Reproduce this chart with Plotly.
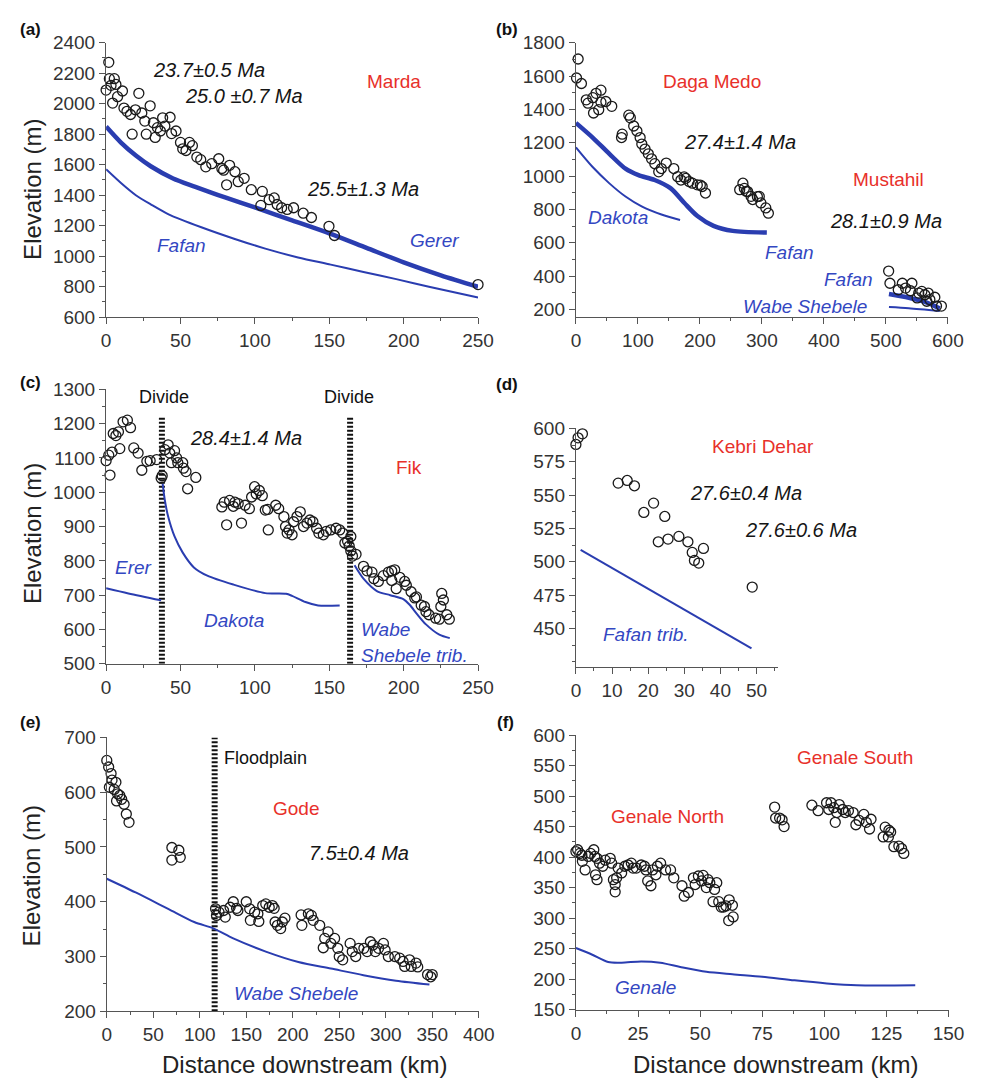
import plotly.graph_objects as go

W, H = 989, 1089

# ---------------- (a) Marda ----------------
a_x = [0, 1.8, 2.2, 3.3, 4.4, 5.5, 6.6, 7.7, 11, 12, 14, 16.4, 17.5, 19.7, 22, 24, 26, 27, 29.6,
       31.8, 33, 34.5, 36.5, 38, 39.5, 43, 44, 47, 50, 51.5, 53.7, 56, 58, 61, 63.6, 67, 71, 75.7,
       77.8, 79, 81, 83, 86.6, 88.8, 92.8, 97.6, 104, 105, 109.6, 113, 115, 118, 121.7, 126,
       132.5, 138, 149.8, 153.5, 250]
a_y = [2089, 2271, 2164, 2120, 2004, 2164, 2126, 2046, 2083, 1971, 1950, 1929, 1800, 1960, 2068,
       1939, 1886, 1800, 1986, 1875, 1779, 1843, 1821, 1907, 1853, 1911, 1804, 1821, 1746, 1704,
       1693, 1746, 1725, 1650, 1633, 1586, 1607, 1639, 1575, 1564, 1468, 1596, 1554, 1489, 1511,
       1436, 1333, 1425, 1371, 1382, 1339, 1318, 1307, 1318, 1282, 1254, 1196, 1136, 814]
a_gerer_x = [0, 10, 20, 30, 45, 60, 80, 100, 125, 150, 175, 200, 225, 250]
a_gerer_y = [1850, 1745, 1660, 1590, 1510, 1455, 1385, 1320, 1235, 1150, 1055, 960, 875, 800]
a_fafan_x = [0, 10, 20, 30, 42, 64, 86, 107, 129, 151, 173, 195, 217, 250]
a_fafan_y = [1570, 1480, 1400, 1340, 1275, 1190, 1115, 1050, 992, 945, 897, 850, 800, 730]

# ---------------- (b) Daga Medo / Mustahil ----------------
b_x = [1, 3.6, 8.9, 16.7, 19.4, 27.3, 28.4, 32.5, 36.8, 40.4, 40.4, 48.3, 57.8, 73.6, 74.7, 85.3,
       87.8, 93.2, 98.4, 103.6, 106.3, 111.5, 116.8, 122, 127.3, 133.6, 137.8, 145.7, 157.9, 164.2,
       169.4, 174.5, 177.3, 182.6, 187.9, 195.8, 200.7, 203.7, 209, 264.2, 269.4, 271.7, 274.7,
       277, 282.6, 285.2, 292.7, 295.8, 298.4, 306.3, 310.5,
       504.5, 506.6, 520, 526.6, 531.8, 539.7, 542, 550.4, 553, 558, 563, 566, 568.3, 571, 579,
       581.7, 589.6]
b_y = [1588, 1702, 1555, 1457, 1437, 1470, 1378, 1496, 1398, 1515, 1443, 1447, 1418, 1231, 1251,
       1365, 1349, 1300, 1270, 1231, 1192, 1162, 1133, 1103, 1074, 1025, 1045, 1078, 1045, 996,
       976, 995, 986, 967, 957, 947, 946, 937, 898, 918, 957, 926, 908, 907, 878, 859, 877, 878,
       839, 809, 777,
       430, 357, 318, 357, 328, 312, 357, 269, 298, 308, 288, 249, 298, 259, 273, 220, 220]
b_fafan_x = [0, 27, 54, 80, 101, 127, 153, 175, 196, 222, 253, 308]
b_fafan_y = [1319, 1231, 1133, 1044, 1005, 976, 926, 838, 760, 701, 671, 661]
b_dakota_x = [0, 27, 54, 80, 106, 138, 168]
b_dakota_y = [1172, 1054, 956, 877, 818, 769, 736]
b_mfafan_x = [505, 537, 563, 587]
b_mfafan_y = [292, 270, 245, 205]
b_wabe_x = [505, 537, 587]
b_wabe_y = [214, 207, 190]

# ---------------- (c) Fik ----------------
c_x = [0, 1.8, 2.6, 4, 4.8, 6.6, 8.3, 9.2, 11.4, 14.3, 16.4, 18.6, 21.5, 24, 27.4, 29.6, 34, 37,
       37.7, 39.5, 41.7, 42.8, 43.9, 46, 47.4, 48.2, 51.5, 52, 53.7, 54.8, 60.3,
       77.8, 79.4, 81, 83, 85.5, 86.6, 88.8, 91, 93.4, 96.3, 97.8, 99.8, 100.9, 103, 105, 107,
       108.6, 109, 114, 116, 119.5, 120.6, 121.7, 123, 125, 126, 128.3, 130.5, 132.7, 135, 137,
       139, 141.5, 143, 146, 148, 151, 154.6, 157, 159, 160.5, 162.3, 163.4, 164.5, 164.5, 165.6,
       168,
       173, 175.4, 178.7, 180, 183, 186.4, 189.7, 192, 194, 192, 195, 197.4, 200.7, 201.8, 205,
       207.5, 208.6, 211.8, 214, 215, 217, 221.5, 224, 225, 225.6, 226.7, 229, 230.7]
c_y = [1092, 1108, 1050, 1117, 1171, 1165, 1176, 1127, 1205, 1210, 1188, 1129, 1114, 1064, 1090,
       1092, 1095, 1041, 1048, 1124, 1138, 1114, 1086, 1121, 1100, 1086, 1086, 1070, 1060, 1010,
       1043,
       957, 971, 905, 976, 959, 971, 967, 910, 962, 952, 986, 1016, 995, 1005, 990, 948, 950, 890,
       962, 952, 929, 900, 881, 890, 876, 914, 929, 943, 900, 910, 919, 914, 895, 881, 876, 886,
       890, 895, 890, 881, 852, 857, 843, 829, 871, 814, 819,
       784, 771, 767, 748, 740, 757, 767, 771, 774, 743, 719, 752, 740, 729, 710, 692, 695, 671,
       667, 652, 643, 633, 630, 667, 705, 686, 643, 630]
c_erer_x = [0, 15, 37]
c_erer_y = [720, 705, 685]
c_dakota_x = [38, 39.5, 41.7, 46, 51.5, 59, 68, 85.5, 107, 121, 125, 134, 142.5, 157]
c_dakota_y = [1025, 976, 929, 871, 824, 781, 757, 731, 706, 704, 698, 680, 670, 670]
c_wabe_x = [167, 173, 182, 191, 200, 204, 209, 215, 224, 231]
c_wabe_y = [787, 748, 712, 700, 688, 672, 645, 615, 585, 575]
c_divide_x = [37.5, 164]
c_divide_top = 1220

# ---------------- (d) Kebri Dehar ----------------
d_x = [0, 0.6, 1.8, 11.7, 14.2, 16.2, 18.8, 21.5, 22.8, 24.6, 25.5, 28.5, 31, 32.2, 32.8, 34,
       35.3, 48.8]
d_y = [588, 593, 596, 559, 561, 557, 537, 544, 515, 534, 517, 519, 515, 507, 501, 499, 510, 481]
d_line_x = [1.3, 48.6]
d_line_y = [509, 435]

# ---------------- (e) Gode ----------------
e_x = [0, 2, 2.8, 4.6, 5.6, 8, 9.8, 10.5, 11.6, 14, 16, 18.6, 21, 23.9, 70, 70, 77.5, 79,
       117, 118, 120.7, 125.6, 127.4, 132.6, 136, 139.6, 141, 150, 153.7, 154.4, 159, 162.5,
       163.5, 167.7, 171, 174.7, 178, 180, 181, 183.5, 187, 188.8, 191.6, 209, 209.8, 216.8, 220,
       222, 229, 232.8, 234.4, 238, 241, 245, 248.4, 250, 253.7, 261.7, 264, 267.7, 271, 276.5,
       280, 283.5, 286.3, 288.8, 292.3, 297.5, 299.3, 302.8, 309.8, 315, 318.6, 320.4, 325.6,
       327.4, 332.6, 334.4, 345, 348.4, 350]
e_y = [658, 646, 609, 634, 622, 605, 618, 584, 597, 594, 587, 578, 560, 545, 499, 476, 494, 481,
       387, 375, 381, 384, 372, 390, 400, 388, 384, 400, 387, 366, 381, 378, 364, 393, 396, 390,
       393, 388, 363, 357, 351, 363, 370, 376, 357, 378, 375, 366, 357, 316, 333, 345, 324, 333,
       315, 300, 294, 324, 309, 300, 315, 315, 309, 327, 321, 309, 315, 324, 312, 300, 300, 297,
       291, 282, 294, 282, 288, 281, 267, 263, 267]
e_line_x = [0, 31, 66, 94, 115, 136, 171, 206, 241, 276, 311, 347]
e_line_y = [442, 417, 387, 363, 351, 333, 309, 290, 278, 266, 256, 249]
e_flood_x = 116

# ---------------- (f) Genale ----------------
f_x = [0, 0.7, 1.6, 2.4, 2.6, 3.7, 5, 5.9, 7.2, 7.6, 8.5, 7.9, 8.5, 9.5, 10.8, 11.8, 13.8, 14.4,
       15.1, 15.8, 15.8, 16.4, 17, 18.4, 19.7, 21, 22.3, 23, 24.3, 26.3, 27.6, 28.2, 28.9, 30.2,
       30.9, 32.2, 32.8, 34.1, 36.1, 38.1, 39.4, 42.7, 43.6, 45.3, 47.3, 48, 49.3, 50.6, 51.2,
       53.2, 52.5, 53.9, 55.2, 55.8, 56.7, 57.5, 58.5, 59.4, 60.4, 61.7, 63, 61.5, 63.3,
       80, 80.4, 82, 83, 83.8, 95, 97.5, 100.9, 101.8, 102.7, 103.8, 104.4, 105, 106, 107.4,
       108.4, 109.7, 111.6, 112.7, 114, 115.9, 116.9, 118.2, 118.8, 123.7, 124.5, 126, 126.7,
       125.8, 128, 130, 131.1, 132]
f_y = [409, 412, 406, 403, 393, 379, 401, 406, 412, 401, 398, 371, 363, 390, 385, 395, 398, 390,
       363, 355, 343, 366, 382, 374, 385, 387, 390, 382, 382, 387, 385, 379, 361, 353, 379, 371,
       385, 390, 379, 379, 366, 353, 336, 342, 366, 355, 369, 361, 370, 363, 350, 358, 327, 347,
       358, 327, 318, 318, 320, 330, 321, 296, 302,
       482, 464, 464, 461, 450, 485, 476, 489, 478, 489, 481, 457, 473, 486, 478, 473, 476, 473,
       453, 460, 470, 457, 446, 462, 433, 449, 444, 441, 433, 417, 418, 414, 406]
f_line_x = [0, 6.6, 13, 18.4, 26.3, 34, 42, 52.5, 63, 75, 88, 101, 113, 136.6]
f_line_y = [251, 240, 228, 227, 229, 227, 220, 212, 208, 204, 198, 193, 190, 190]

BLUE = "#2a3db0"
BLUE_T = "#3347c2"
RED = "#e8302a"
FONT = "Liberation Sans, Arial, sans-serif"

fig = go.Figure()


def pts(x, y, k):
    fig.add_trace(go.Scatter(x=x, y=y, mode="markers", xaxis="x" + k, yaxis="y" + k,
                             cliponaxis=False, showlegend=False, hoverinfo="skip",
                             marker=dict(symbol="circle-open", size=10, color="#1a1a1a",
                                         line=dict(width=1.3))))


def line(x, y, k, w):
    fig.add_trace(go.Scatter(x=x, y=y, mode="lines", xaxis="x" + k, yaxis="y" + k,
                             cliponaxis=False, showlegend=False, hoverinfo="skip",
                             line=dict(color=BLUE, width=w, shape="spline", smoothing=0.8)))


def divider(xv, y0, y1, k):
    fig.add_trace(go.Scatter(x=[xv, xv], y=[y0, y1], mode="lines", xaxis="x" + k, yaxis="y" + k,
                             cliponaxis=False, showlegend=False, hoverinfo="skip",
                             line=dict(color="#111111", width=6, dash="2px,2px")))


# (a)
line(a_fafan_x, a_fafan_y, "", 2)
line(a_gerer_x, a_gerer_y, "", 4.5)
pts(a_x, a_y, "")
# (b)
line(b_dakota_x, b_dakota_y, "2", 2)
line(b_fafan_x, b_fafan_y, "2", 4.5)
line(b_wabe_x, b_wabe_y, "2", 2)
line(b_mfafan_x, b_mfafan_y, "2", 4.5)
pts(b_x, b_y, "2")
# (c)
for dx in c_divide_x:
    divider(dx, 500, c_divide_top, "3")
line(c_erer_x, c_erer_y, "3", 2)
line(c_dakota_x, c_dakota_y, "3", 2)
line(c_wabe_x, c_wabe_y, "3", 2)
pts(c_x, c_y, "3")
# (d)
line(d_line_x, d_line_y, "4", 2)
pts(d_x, d_y, "4")
# (e)
divider(e_flood_x, 200, 700, "5")
line(e_line_x, e_line_y, "5", 2)
pts(e_x, e_y, "5")
# (f)
line(f_line_x, f_line_y, "6", 2)
pts(f_x, f_y, "6")


def xdom(p0, p1):
    return [p0 / W, p1 / W]


def ydom(top, bot):
    return [1 - bot / H, 1 - top / H]


def axis(domain, rng, anchor, dtick, minor, tickvals=None):
    d = dict(domain=domain, range=rng, anchor=anchor, showline=True, linecolor="#555",
             linewidth=1.3, ticks="outside", ticklen=6, tickwidth=1.3, tickcolor="#555",
             showgrid=False, zeroline=False,
             tickfont=dict(family=FONT, size=19, color="#333"),
             minor=dict(dtick=minor, tick0=0, ticks="outside", ticklen=3, tickcolor="#555",
                        tickwidth=1, showgrid=False))
    if tickvals is not None:
        d.update(tickmode="array", tickvals=tickvals)
    else:
        d.update(tick0=0, dtick=dtick)
    return d


L = xdom(103.3, 483.3)
R = xdom(583.3, 963.3)
fig.update_layout(
    xaxis=axis(L, [0, 250], "y", 50, 25),
    yaxis=axis(ydom(33.3, 313.3), [600, 2400], "x", 200, 100),
    xaxis2=axis(R, [0, 600], "y2", 100, 50),
    yaxis2=axis(ydom(33.3, 313.3), [153, 1800], "x2", 200, 100),
    xaxis3=axis(L, [0, 250], "y3", 50, 25),
    yaxis3=axis(ydom(386.7, 666.7), [500, 1300], "x3", 100, 50),
    xaxis4=axis(xdom(583.3, 790), [0, 56], "y4", 10, 5),
    yaxis4=axis(ydom(426.7, 670), [421, 600], "x4", 25, 12.5,
                tickvals=[450, 475, 500, 525, 550, 575, 600]),
    xaxis5=axis(xdom(104, 484), [0, 400], "y5", 50, 25),
    yaxis5=axis(ydom(741.7, 1021), [200, 700], "x5", 100, 50),
    xaxis6=axis(xdom(583.3, 964), [0, 150], "y6", 25, 12.5),
    yaxis6=axis(ydom(739.3, 1019.3), [150, 600], "x6", 50, 25),
)

ann = []


def txt(t, px, py, size=20, color="#111", anchor="center", angle=0):
    ann.append(dict(text=t, x=px / W, y=1 - py / H, xref="paper", yref="paper",
                    xanchor=anchor, yanchor="middle", showarrow=False, textangle=angle,
                    align="left", font=dict(family=FONT, size=size, color=color)))


def age(t, px, py):
    txt("<i>" + t + "</i>", px, py, 20, "#151515")


def red(t, px, py):
    txt(t, px, py, 19, RED)


def blue(t, px, py, anchor="center"):
    txt("<i>" + t + "</i>", px, py, 19, BLUE_T, anchor)


for lab, px, py in [("(a)", 26, 20), ("(b)", 513, 20), ("(c)", 26, 380), ("(d)", 513, 382),
                    ("(e)", 26, 727), ("(f)", 511, 727)]:
    txt("<b>" + lab + "</b>", px, py, 17, "#111")

# (a)
age("23.7±0.5 Ma", 208, 61)
age("25.0 ±0.7 Ma", 244, 88)
age("25.5±1.3 Ma", 366, 183)
red("Marda", 397, 73)
blue("Fafan", 180, 240)
blue("Gerer", 439, 235)
# (b)
red("Daga Medo", 722, 73)
age("27.4±1.4 Ma", 751, 135)
red("Mustahil", 903, 173)
age("28.1±0.9 Ma", 900, 215)
blue("Dakota", 626, 212)
blue("Fafan", 802, 247)
blue("Fafan", 862, 275)
blue("Wabe Shebele", 817, 302)
# (c)
txt("Divide", 162, 395, 18, "#111")
txt("Divide", 351, 395, 18, "#111")
age("28.4±1.4 Ma", 246, 436)
red("Fik", 413, 467)
blue("Erer", 131, 568)
blue("Dakota", 234, 623)
blue("Wabe", 362, 632, "left")
blue("Shebele trib.", 362, 658, "left")
# (d)
red("Kebri Dehar", 774, 445)
age("27.6±0.4 Ma", 757, 493)
age("27.6±0.6 Ma", 813, 530)
blue("Fafan trib.", 655, 637)
# (e)
txt("Floodplain", 222, 763, 18, "#111", "left")
red("Gode", 297, 814)
age("7.5±0.4 Ma", 362, 860)
blue("Wabe Shebele", 297, 1003)
# (f)
red("Genale South", 868, 762)
red("Genale North", 677, 822)
blue("Genale", 654, 997)

for py in [183, 534, 883]:
    txt("Elevation (m)", 28, py, 24, "#222", angle=-90)
txt("Distance downstream (km)", 306, 1075, 24, "#222")
txt("Distance downstream (km)", 787, 1075, 24, "#222")

fig.update_layout(annotations=ann, width=W, height=H, margin=dict(l=0, r=0, t=0, b=0),
                  paper_bgcolor="white", plot_bgcolor="white", showlegend=False)

fig.write_html("out.html")
